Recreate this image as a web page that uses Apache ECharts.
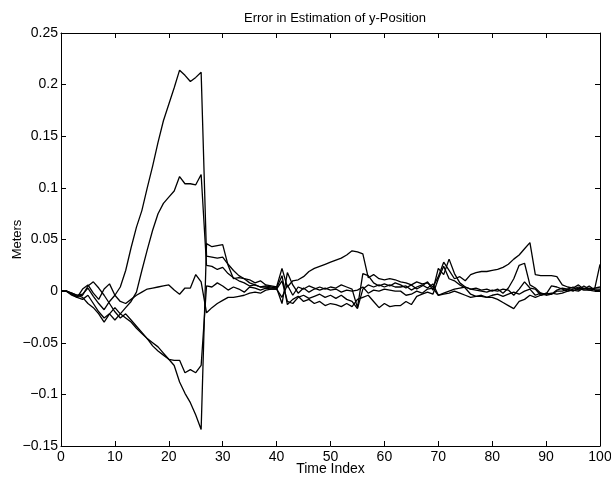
<!DOCTYPE html>
<html>
<head>
<meta charset="utf-8">
<script src="https://cdn.jsdelivr.net/npm/echarts@6/dist/echarts.min.js"></script>
<style>html,body{margin:0;padding:0;background:#fff;}#c{width:611px;height:478px;}</style>
</head>
<body>
<div id="c"></div>
<script>
const titleText = "Error in Estimation of y-Position";
const xName = "Time Index";
const yName = "Meters";
const timeIndex = Array.from({length: 101}, (_, i) => i);

const run1 = [0,0,-0.002,-0.004,-0.003,0.003,-0.005,-0.012,-0.018,-0.01,-0.004,0.004,0.02,0.042,0.062,0.078,0.1,0.121,0.144,0.165,0.181,0.197,0.214,0.209,0.203,0.207,0.212,
0.034,0.033,0.032,0.033,0.026,0.02,0.015,0.012,0.008,0.006,0.004,0.004,0.003,0.003,
-0.012,0.018,0.006,-0.002,0.003,-0.001,0.002,0.004,0.002,0.004,0.003,0.006,0.004,0.002,-0.016,0.017,0.015,0.008,0.005,0.007,0.005,0.008,
0.006,0.003,0.006,0.002,0.005,0.009,0.001,0.022,0.016,0.031,0.017,0.008,0.004,0.002,0.003,0.001,0.002,0,0.002,-0.002,0.003,0.012,0.025,0.027,0.006,0.003,-0.002,-0.004,-0.003,0.001,0.003,0.002,0.004,0.001,0.005,0.002,0.003,0.004];

const run2 = [0,0,-0.003,-0.006,-0.008,-0.004,-0.012,-0.02,-0.026,-0.022,-0.028,-0.022,-0.016,-0.01,-0.001,0.02,0.04,0.059,0.075,0.085,0.091,0.097,0.111,0.104,0.104,0.103,0.113,
0.025,0.024,0.021,0.023,0.017,0.013,0.01,0.008,0.005,0.006,0.004,0.005,0.004,0.003,
0.015,-0.013,-0.008,-0.005,-0.01,-0.008,-0.012,-0.01,-0.014,-0.012,-0.013,-0.015,-0.012,-0.015,-0.008,-0.006,-0.004,-0.01,-0.016,-0.012,-0.015,-0.014,
-0.014,-0.01,-0.013,-0.005,-0.003,-0.001,-0.003,0.012,0.024,0.012,0.01,0.006,0.003,-0.003,-0.005,-0.005,-0.006,-0.006,-0.008,-0.011,-0.014,-0.017,-0.01,-0.008,-0.004,-0.006,-0.004,-0.002,-0.003,0,0,0.002,0,0.003,0.001,0.001,0,0.001];

const run3 = [0,0,-0.004,-0.006,0.002,0.006,-0.002,-0.008,0.002,0.007,-0.004,-0.01,-0.012,-0.008,-0.004,-0.001,0.002,0.003,0.004,0.005,0.006,0.001,-0.003,0.003,0.003,0.016,0.009,
-0.021,-0.016,-0.012,-0.009,-0.006,-0.006,-0.005,-0.004,-0.002,-0.001,-0.002,0.001,0.002,0.002,
0.01,-0.01,-0.012,-0.006,-0.004,-0.007,-0.005,-0.003,-0.006,-0.004,-0.007,-0.004,-0.008,-0.01,-0.017,0.002,0.006,0.004,0.006,0.004,0.006,0.004,
0.004,0.005,0.001,0.004,0.006,0.003,0.007,-0.004,-0.002,0,0.002,0.003,0.004,0.002,0.001,0,-0.001,0.001,0,0.002,0.001,-0.004,0.002,0.009,0.003,0.002,-0.004,-0.003,0.005,0.004,0.002,0,0.002,0.004,0.002,0.005,0.001,0];

const run4 = [0,0,-0.003,-0.005,-0.004,0.005,0.009,0.003,-0.004,-0.012,-0.02,-0.026,-0.022,-0.028,-0.034,-0.04,-0.046,-0.05,-0.054,-0.06,-0.066,-0.067,-0.067,-0.079,-0.076,-0.079,-0.072,
0.005,0.004,0.008,0.005,0.001,0.004,0.002,-0.001,0.004,0.003,0.001,0.003,0.002,0.002,
-0.006,0.006,-0.004,0.004,0.002,0.005,0.003,0.001,0.003,0.001,0.002,-0.001,0.001,0,0.001,0.004,-0.002,0.001,0,0.002,0.001,0,
0,-0.004,-0.003,0,-0.002,0.002,0.003,-0.004,-0.003,-0.002,0,-0.002,-0.004,-0.006,-0.005,-0.004,-0.006,-0.004,-0.003,-0.005,-0.003,-0.001,-0.003,0,0.002,-0.004,-0.002,-0.003,-0.002,-0.003,-0.002,0,0.001,0,0.003,0.001,0.002,0.002];

const run5 = [0,0,-0.002,-0.004,-0.006,-0.012,-0.016,-0.022,-0.03,-0.022,-0.016,-0.022,-0.026,-0.03,-0.036,-0.041,-0.046,-0.053,-0.058,-0.062,-0.066,-0.072,-0.088,-0.099,-0.108,-0.12,-0.134,
0.046,0.043,0.044,0.045,0.025,0.012,0.013,0.012,0.011,0.008,0.01,0.006,0.005,0.004,
0.022,0.004,0.01,0.011,0.014,0.019,0.022,0.024,0.026,0.028,0.03,0.032,0.035,0.039,0.038,0.036,0.013,0.016,0.012,0.011,0.012,0.011,
0.009,0.008,0.006,0.009,0.007,0.008,0.004,0.014,0.028,0.02,0.012,0.014,0.01,0.016,0.018,0.019,0.019,0.02,0.021,0.023,0.026,0.031,0.035,0.041,0.047,0.016,0.015,0.015,0.015,0.014,0.006,0.004,0.003,0.006,0.002,0.003,0.002,0.026];

const runs = [run1, run2, run3, run4, run5];
const yTicks = {min: -0.15, max: 0.25, interval: 0.05};
const xTicks = {min: 0, max: 100, interval: 10};

const FONT = "Liberation Sans";
const fmtY = v => {
  const s = String(Math.round(v * 100) / 100);
  return s.replace('-', '\u2212');
};

const chart = echarts.init(document.getElementById('c'), null, {renderer: 'canvas'});
const axisCommon = () => ({
  axisLine: {show: true, onZero: false, lineStyle: {color: '#000', width: 1}},
  axisTick: {show: true, inside: true, length: 5, lineStyle: {color: '#000'}},
  splitLine: {show: false}
});
chart.setOption({
  animation: false,
  backgroundColor: '#fff',
  title: {
    text: titleText, left: 330, top: 7, textAlign: 'center',
    textStyle: {fontFamily: FONT, fontSize: 13, fontWeight: 'normal', color: '#000'}
  },
  grid: {left: 61, right: 11, top: 33, bottom: 32, containLabel: false, outerBoundsMode: 'none'},
  xAxis: [
    Object.assign({
      type: 'value', position: 'bottom', min: xTicks.min, max: xTicks.max, interval: xTicks.interval,
      name: xName, nameLocation: 'middle', nameGap: 16, nameMoveOverlap: false,
      nameTextStyle: {fontFamily: FONT, fontSize: 14, color: '#000'},
      axisLabel: {fontFamily: FONT, fontSize: 14, color: '#000', margin: 4}
    }, axisCommon()),
    Object.assign({
      type: 'value', position: 'top', min: xTicks.min, max: xTicks.max, interval: xTicks.interval,
      axisLabel: {show: false}
    }, axisCommon())
  ],
  yAxis: [
    Object.assign({
      type: 'value', position: 'left', min: yTicks.min, max: yTicks.max, interval: yTicks.interval,
      name: yName, nameLocation: 'middle', nameGap: 37, nameRotate: 90, nameMoveOverlap: false,
      nameTextStyle: {fontFamily: FONT, fontSize: 13, color: '#000'},
      axisLabel: {fontFamily: FONT, fontSize: 14, color: '#000', margin: 3, formatter: fmtY}
    }, axisCommon()),
    Object.assign({
      type: 'value', position: 'right', min: yTicks.min, max: yTicks.max, interval: yTicks.interval,
      axisLabel: {show: false}
    }, axisCommon())
  ],
  series: runs.map((r, k) => ({
    type: 'line', name: 'run' + (k + 1), xAxisIndex: 0, yAxisIndex: 0,
    data: timeIndex.map((t, i) => [t, r[i]]),
    showSymbol: false, symbol: 'none',
    lineStyle: {color: '#000', width: 1.3},
    z: 2
  }))
});
</script>
</body>
</html>
